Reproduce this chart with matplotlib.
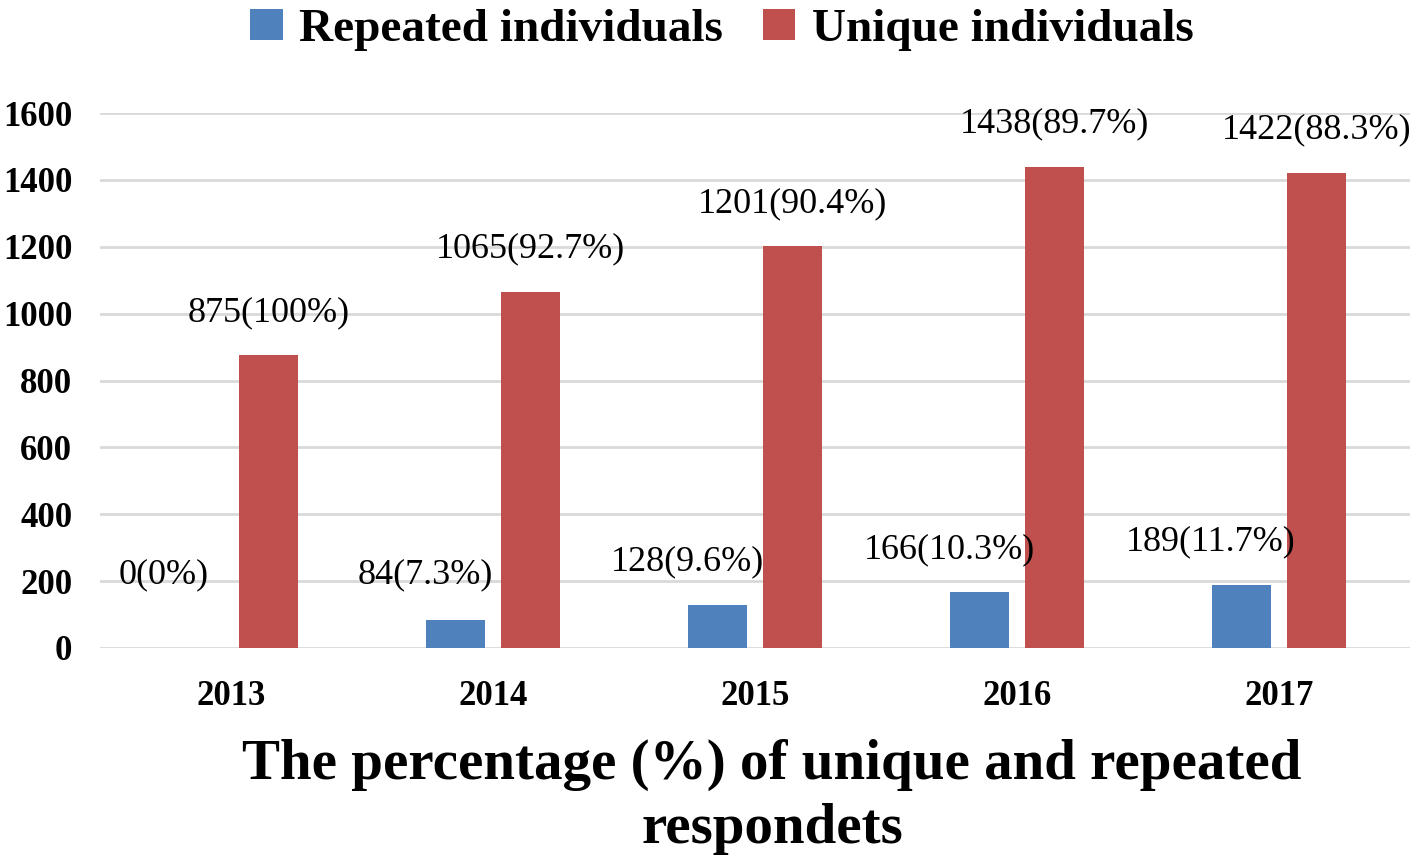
import matplotlib
matplotlib.use("Agg")
import matplotlib.pyplot as plt
import numpy as np

plt.rcParams['font.family'] = ['Liberation Serif', 'DejaVu Serif']

years = ['2013', '2014', '2015', '2016', '2017']
repeated = [0, 84, 128, 166, 189]
unique = [875, 1065, 1201, 1438, 1422]
repeated_lbl = ['0(0%)', '84(7.3%)', '128(9.6%)', '166(10.3%)', '189(11.7%)']
unique_lbl = ['875(100%)', '1065(92.7%)', '1201(90.4%)', '1438(89.7%)', '1422(88.3%)']

blue = '#4F81BD'
red = '#C0504D'

fig = plt.figure(figsize=(14.18, 8.64), dpi=100)
ax = fig.add_axes([100/1418, 1 - 648/864, 1310/1418, 535/864])

x = np.arange(len(years))
w = 0.225
off = 0.142
ax.bar(x - off, repeated, w, color=blue, label='Repeated individuals', zorder=3)
ax.bar(x + off, unique, w, color=red, label='Unique individuals', zorder=3)

for i in range(len(years)):
    # blue labels sit a bit left of their bar, as in the original
    ax.annotate(repeated_lbl[i], (x[i] - off, max(repeated[i], 90)),
                xytext=(-22, 31), textcoords='offset points',
                ha='center', va='center', fontsize=26, annotation_clip=False)
    ax.annotate(unique_lbl[i], (x[i] + off, unique[i]),
                xytext=(0, 31), textcoords='offset points',
                ha='center', va='center', fontsize=26, annotation_clip=False)

ax.set_xlim(-0.5, len(years) - 0.5)
ax.set_ylim(0, 1600)
ax.set_yticks(np.arange(0, 1601, 200))
ax.set_xticks(x)
ax.set_xticklabels(years)
ax.tick_params(axis='both', length=0, labelsize=25)
ax.tick_params(axis='y', pad=20)
ax.tick_params(axis='x', pad=23)
for lab in ax.get_xticklabels() + ax.get_yticklabels():
    lab.set_fontweight('bold')

ax.grid(axis='y', color='#d9d9d9', linewidth=2, zorder=0)
ax.set_axisbelow(True)
for s in ax.spines.values():
    s.set_visible(False)

fig.legend(loc='upper center', bbox_to_anchor=(722/1418, 1.012), ncol=2, frameon=False,
           prop={'weight': 'bold', 'size': 34}, handlelength=0.68, handleheight=0.65,
           handletextpad=0.35, columnspacing=0.85, borderaxespad=0)

fig.text(772/1418, 1 - 797/864, 'The percentage (%) of unique and repeated\nrespondets',
         ha='center', va='center', fontsize=41, fontweight='bold', linespacing=1.3)

fig.savefig('out.png', dpi=100)
